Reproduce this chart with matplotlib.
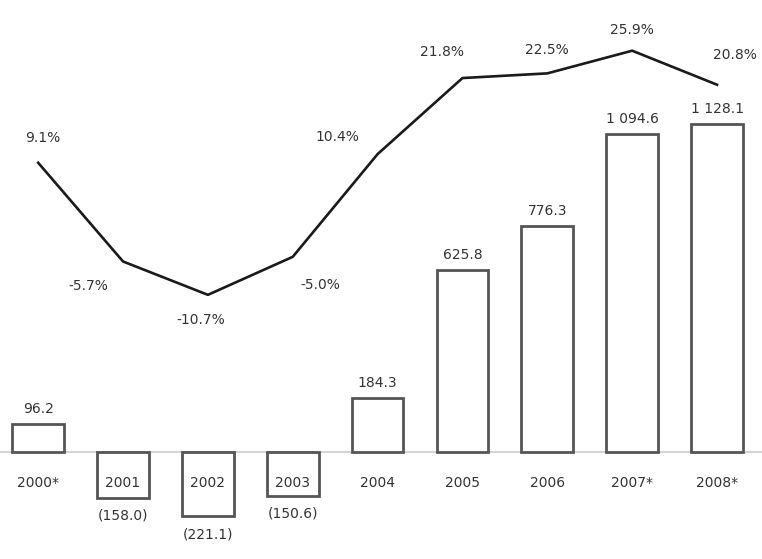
import numpy as np
import matplotlib
matplotlib.use('Agg')
import matplotlib.pyplot as plt

# 年份、金额（柱）与增长率（折线）
years = ['2000*', '2001', '2002', '2003', '2004', '2005', '2006', '2007*', '2008*']
amounts = [96.2, -158.0, -221.1, -150.6, 184.3, 625.8, 776.3, 1094.6, 1128.1]
growth = [9.1, -5.7, -10.7, -5.0, 10.4, 21.8, 22.5, 25.9, 20.8]

# 折线标签相对点的偏移（像素）
growth_offsets = [(5, 25), (-35, -25), (-7, -25), (28, -28), (-40, 17),
                  (-20, 26), (0, 23), (0, 21), (18, 30)]

def fmt_amount(v):
    s = '{:,.1f}'.format(abs(v)).replace(',', ' ')
    return '(' + s + ')' if v < 0 else s

x = np.arange(len(years))
txt = '#333333'

fig = plt.figure(figsize=(7.62, 5.59), dpi=100)
ax = fig.add_axes([0, 0, 1, 1])
ax.set_xlim(-0.45, 8.53)
ax.set_ylim(-368, 1555)
ax.axis('off')

ax.axhline(0, color='#cccccc', lw=1.2, zorder=1)
ax.bar(x, amounts, width=0.61, facecolor='white', edgecolor='#555555', linewidth=2, zorder=2)

for i, v in enumerate(amounts):
    if v >= 0:
        ax.annotate(fmt_amount(v), (i, v), xytext=(0, 8), textcoords='offset pixels',
                    ha='center', va='bottom', fontsize=10, color=txt)
    else:
        ax.annotate(fmt_amount(v), (i, v), xytext=(0, -18), textcoords='offset pixels',
                    ha='center', va='center', fontsize=10, color=txt)
    ax.annotate(years[i], (i, 0), xytext=(0, -31), textcoords='offset pixels',
                ha='center', va='center', fontsize=10, color=txt, zorder=3)

# 增长率折线（次坐标）
ax2 = ax.twinx()
ax2.set_ylim(-50.3, 33.5)
ax2.axis('off')
ax2.plot(x, growth, color='#1a1a1a', lw=1.9, zorder=4)
for i, g in enumerate(growth):
    dx, dy = growth_offsets[i]
    ax2.annotate('{:.1f}%'.format(g), (i, g), xytext=(dx, dy), textcoords='offset pixels',
                 ha='center', va='center', fontsize=10, color=txt)

fig.savefig('out.png', dpi=100, facecolor='white')
